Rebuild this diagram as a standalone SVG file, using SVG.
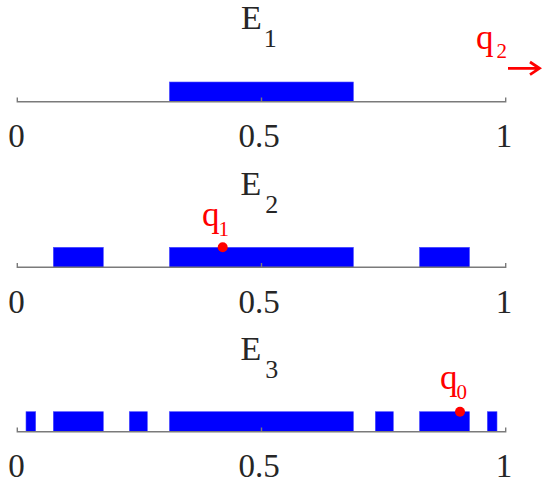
<svg xmlns="http://www.w3.org/2000/svg" width="542" height="487" viewBox="0 0 542 487">
  <defs>
    <style>
      .axis { stroke: #7a7a7a; stroke-width: 1.4; fill: none; }
      .bar { fill: #0000ff; stroke: #4d4dff; stroke-width: 0.6; }
      .lbl { font-family: "Liberation Serif", "Times New Roman", serif; fill: #262626; }
      .tick { font-size: 33px; text-anchor: middle; }
      .E { font-size: 34px; }
      .Esub { font-size: 26px; }
      .q { font-family: "Liberation Serif", "Times New Roman", serif; fill: #ff0000; font-size: 35px; }
      .qsub { font-size: 21px; }
      .dot { fill: #ff0000; }
    </style>
  </defs>
  <rect width="542" height="487" fill="#ffffff"/>

  <g id="panel-E1">
    <rect class="bar" x="169.4" y="82" width="184" height="19.7"/>
    <path class="axis" d="M17.3,97.5 V101.7 H505.7 V97.5 M261.5,101.7 V97.5"/>
    <text class="lbl E" x="241" y="29.3">E<tspan class="Esub" dx="2" dy="18">1</tspan></text>
    <text class="lbl tick" x="16.5" y="147.3">0</text>
    <text class="lbl tick" x="259" y="147.3">0.5</text>
    <text class="lbl tick" x="504" y="147.3">1</text>
  </g>

  <g id="panel-E2">
    <rect class="bar" x="53.3" y="247.3" width="50" height="20"/>
    <rect class="bar" x="169.4" y="247.3" width="184" height="20"/>
    <rect class="bar" x="419.5" y="247.3" width="50" height="20"/>
    <path class="axis" d="M17.3,263.1 V267.3 H505.7 V263.1 M261.5,267.3 V263.1"/>
    <text class="lbl E" x="240.5" y="195">E<tspan class="Esub" dx="4" dy="18">2</tspan></text>
    <text class="lbl tick" x="16.5" y="312.9">0</text>
    <text class="lbl tick" x="259" y="312.9">0.5</text>
    <text class="lbl tick" x="504" y="312.9">1</text>
  </g>

  <g id="panel-E3">
    <rect class="bar" x="26" y="411.7" width="9.7" height="20"/>
    <rect class="bar" x="53.3" y="411.7" width="50" height="20"/>
    <rect class="bar" x="129.3" y="411.7" width="18" height="20"/>
    <rect class="bar" x="169.4" y="411.7" width="184" height="20"/>
    <rect class="bar" x="375.3" y="411.7" width="18" height="20"/>
    <rect class="bar" x="419.5" y="411.7" width="50" height="20"/>
    <rect class="bar" x="487.3" y="411.7" width="9.7" height="20"/>
    <path class="axis" d="M17.3,427.5 V431.7 H505.7 V427.5 M261.5,431.7 V427.5"/>
    <text class="lbl E" x="240.5" y="360">E<tspan class="Esub" dx="4" dy="18">3</tspan></text>
    <text class="lbl tick" x="16.5" y="477.3">0</text>
    <text class="lbl tick" x="259" y="477.3">0.5</text>
    <text class="lbl tick" x="504" y="477.3">1</text>
  </g>

  <g id="point-q0">
    <circle class="dot" cx="460" cy="411.7" r="5"/>
    <text class="q" x="440" y="389.4">q<tspan class="qsub" dx="-1" dy="10">0</tspan></text>
  </g>

  <g id="point-q1">
    <circle class="dot" cx="222.7" cy="247.3" r="5"/>
    <text class="q" x="202" y="226">q<tspan class="qsub" dx="-1" dy="10">1</tspan></text>
  </g>

  <g id="point-q2">
    <text class="q" x="476" y="49.4">q<tspan class="qsub" dx="3" dy="9">2</tspan></text>
  </g>

  <g id="connectors">
    <path d="M508,68.3 H539 M530,62 L539.5,68.3 L530,74.6" stroke="#ff0000" stroke-width="2.8" fill="none"/>
  </g>
</svg>
